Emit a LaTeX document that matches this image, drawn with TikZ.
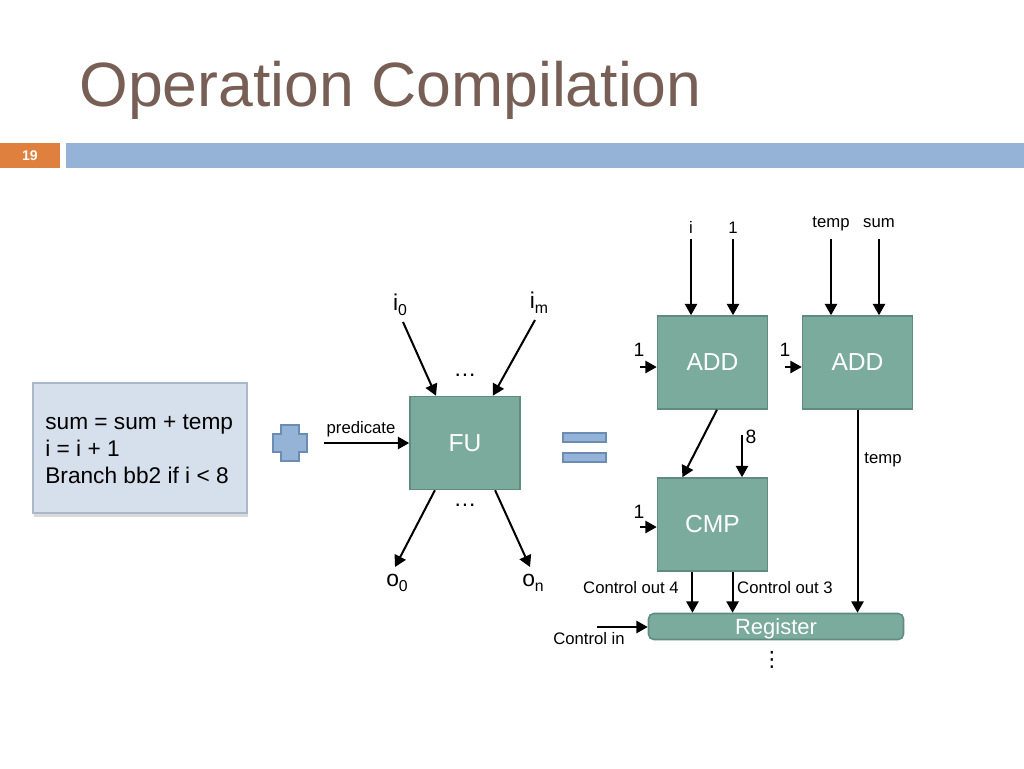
\documentclass[tikz,border=0pt]{standalone}
\usepackage{fontspec}
\setmainfont{Liberation Sans}
\newfontfamily\symfont{DejaVu Sans}
\usetikzlibrary{calc,positioning,arrows.meta,shadows}
\definecolor{titlebrown}{HTML}{775F55}
\definecolor{barblue}{HTML}{95B3D7}
\definecolor{barorange}{HTML}{E0803F}
\definecolor{futeal}{HTML}{7AAB9C}
\definecolor{futealdark}{HTML}{5F8C7E}
\definecolor{codefill}{HTML}{D5E0EC}
\definecolor{codeline}{HTML}{A9B9CA}
\definecolor{symline}{HTML}{6C8DB3}
\newcommand{\lowsub}[1]{\raisebox{-0.45ex}{\fontsize{9}{9}\selectfont #1}}

\begin{document}
\begin{tikzpicture}[x=0.02cm,y=-0.02cm,
  unit/.style={draw=futealdark,fill=futeal,line width=0.9pt,minimum width=2.2cm,minimum height=1.86cm,inner sep=0pt,text=white,font=\fontsize{14}{16}\selectfont},
  lbl/.style={inner sep=0pt,font=\fontsize{9.5}{11}\selectfont},
  num/.style={inner sep=0pt,font=\fontsize{11}{13}\selectfont},
  sig/.style={inner sep=0pt,font=\fontsize{13}{15}\selectfont},
  symbol/.style={fill=barblue,draw=symline,line width=0.6pt},
  wire/.style={line width=1.15pt,-{Triangle[length=6.5pt,width=7pt]}}]
  \useasboundingbox (0,0) rectangle (1024,768);

  % header
  \node[anchor=base west,inner sep=0pt,text=titlebrown,font=\fontsize{35.6}{40}\selectfont] (title) at (79,106) {Operation Compilation};
  \fill[barorange] (0,143) rectangle (60,168);
  \node[text=white,font=\bfseries\fontsize{8}{9}\selectfont] (page) at (30,155.5) {19};
  \fill[barblue] (66,143) rectangle (1024,168);

  % basic block
  \node[draw=codeline,fill=codefill,line width=0.8pt,minimum width=4.28cm,minimum height=2.6cm,drop shadow={opacity=0.3,shadow xshift=0.5pt,shadow yshift=-2pt}] (code) at (140,448) {};
  \node[anchor=west,align=left,inner sep=0pt,font=\fontsize{12.9}{15.3}\selectfont] (codetext) at (45,449) {sum = sum + temp\\ i = i + 1\\ Branch bb2 if i < 8};

  % plus and equals
  \filldraw[symbol] (281,425) -- (299,425) -- (299,434) -- (307,434) -- (307,452) -- (299,452) -- (299,461) -- (281,461) -- (281,452) -- (273,452) -- (273,434) -- (281,434) -- cycle;
  \filldraw[symbol] (563,433) rectangle (606,442);
  \filldraw[symbol] (563,453) rectangle (606,462);

  % generic FU
  \node[unit] (fu) at (465,443) {FU};
  \node[sig] (i0) at (400,305) {i\lowsub{0}};
  \node[sig] (im) at (539,303) {i\lowsub{m}};
  \coordinate (i0s) at (403,322);
  \coordinate (ims) at (535,320);
  \draw[wire] (i0s) -- ($(fu.north west)!0.24!(fu.north east)$);
  \draw[wire] (ims) -- ($(fu.north west)!0.75!(fu.north east)$);
  \node[sig] (dotsup) at (465,375) {…};
  \node[sig] (dotsdn) at (465,505) {…};
  \coordinate (o0e) at (395,567);
  \coordinate (one) at (530,567);
  \draw[wire] ($(fu.south west)!0.23!(fu.south east)$) -- (o0e);
  \draw[wire] ($(fu.south west)!0.77!(fu.south east)$) -- (one);
  \node[sig] (o0) at (397,583) {o\lowsub{0}};
  \node[sig] (on) at (533,583) {o\lowsub{n}};
  \coordinate (preds) at (324,443);
  \draw[wire] (preds) -- (fu.west);
  \node[lbl] (pred) at (361,429) {predicate};

  % compiled operations
  \node[unit] (addA) at (712.5,362.5) {ADD};
  \node[unit] (addB) at (857.5,362.5) {ADD};
  \node[unit] (cmp) at (712.5,524.5) {CMP};
  \node[draw=futealdark,fill=futeal,line width=0.9pt,rounded corners=3pt,minimum width=5.1cm,minimum height=0.52cm,inner sep=0pt,text height=0.87em,text depth=0pt,text=white,font=\fontsize{12.5}{14}\selectfont] (reg) at (776,626.5) {Register};

  \node[lbl,anchor=base] (inI) at (691,233) {i};
  \node[lbl,anchor=base] (inOne) at (733,233) {1};
  \node[lbl,anchor=base] (inTemp) at (831,227) {temp};
  \node[lbl,anchor=base] (inSum) at (879,227) {sum};
  \coordinate (aI) at (691,239);
  \coordinate (aOne) at (733,239);
  \coordinate (bTemp) at (831,239);
  \coordinate (bSum) at (879,239);
  \draw[wire] (aI) -- (aI |- addA.north);
  \draw[wire] (aOne) -- (aOne |- addA.north);
  \draw[wire] (bTemp) -- (bTemp |- addB.north);
  \draw[wire] (bSum) -- (bSum |- addB.north);

  \coordinate (aSide) at (640,367);
  \coordinate (bSide) at (785,367);
  \coordinate (cSide) at (640,527);
  \draw[wire] (aSide) -- (aSide -| addA.west);
  \draw[wire] (bSide) -- (bSide -| addB.west);
  \draw[wire] (cSide) -- (cSide -| cmp.west);
  \node[num] (aOneL) at (639,350) {1};
  \node[num] (bOneL) at (785,350) {1};
  \node[num] (cOneL) at (639,512) {1};

  \draw[wire] ($(addA.south west)!0.54!(addA.south east)$) -- ($(cmp.north west)!0.23!(cmp.north east)$);
  \coordinate (eightS) at (742,435);
  \draw[wire] (eightS) -- (eightS |- cmp.north);
  \node[num] (eight) at (751,437) {8};

  \draw[wire] (addB.south) -- (addB.south |- reg.north);
  \node[lbl] (tempOut) at (883,460) {temp};

  \coordinate (cOut4) at ($(cmp.south west)!0.32!(cmp.south east)$);
  \coordinate (cOut3) at ($(cmp.south west)!0.68!(cmp.south east)$);
  \draw[wire] (cOut4) -- (cOut4 |- reg.north);
  \draw[wire] (cOut3) -- (cOut3 |- reg.north);
  \node[lbl] (out4) at (631,588) {Control out 4};
  \node[lbl] (out3) at (785,588) {Control out 3};

  \coordinate (ctrlIn) at (597,627);
  \draw[wire] (ctrlIn) -- (ctrlIn -| reg.west);
  \node[lbl] (inCtrl) at (589,639) {Control in};
  \node[inner sep=0pt,font=\symfont\fontsize{12}{14}\selectfont] (regdots) at (772,660) {⋮};
\end{tikzpicture}
\end{document}
